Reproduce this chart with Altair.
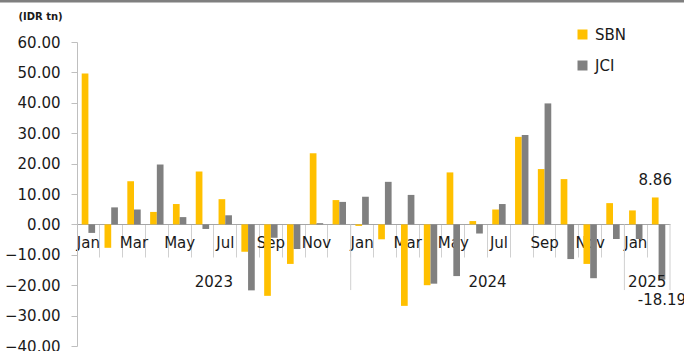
import altair as alt
import pandas as pd

# Monthly net foreign flows, IDR trillion
periods = [
    "2023-01", "2023-02", "2023-03", "2023-04", "2023-05", "2023-06",
    "2023-07", "2023-08", "2023-09", "2023-10", "2023-11", "2023-12",
    "2024-01", "2024-02", "2024-03", "2024-04", "2024-05", "2024-06",
    "2024-07", "2024-08", "2024-09", "2024-10", "2024-11", "2024-12",
    "2025-01", "2025-02",
]
sbn = [49.6, -7.7, 14.2, 4.1, 6.7, 17.4, 8.3, -9.0, -23.5, -13.0, 23.4, 8.0,
       -0.5, -4.9, -26.8, -20.0, 17.1, 1.1, 4.9, 28.8, 18.2, 14.9, -13.0, 7.0,
       4.6, 8.86]
jci = [-2.8, 5.6, 4.9, 19.7, 2.4, -1.5, 3.0, -21.7, -4.4, -8.1, 0.4, 7.4,
       9.1, 14.0, 9.7, -19.5, -17.0, -3.0, 6.7, 29.4, 39.8, -11.4, -17.7, -4.8,
       -4.8, -18.19]
series_names = ["SBN", "JCI"]
series_colors = ["#FFC000", "#808080"]
year_names = ["2023", "2024", "2025"]
year_centers = ["2023-07", "2024-07", "2025-02"]
year_breaks = ["2024-01", "2025-01"]
y_ticks = [-40, -30, -20, -10, 0, 10, 20, 30, 40, 50, 60]

rows = []
for p, a, b in zip(periods, sbn, jci):
    rows.append({"period": p, "series": "SBN", "value": a})
    rows.append({"period": p, "series": "JCI", "value": b})
df = pd.DataFrame(rows)
last = df[df["period"] == periods[-1]].copy()
last["label"] = last["value"].map(lambda v: f"{v:.2f}")

FONT = "DejaVu Sans"
month_expr = ("['Jan','','Mar','','May','','Jul','','Sep','','Nov','']"
              "[toNumber(substring(datum.value,5,7))-1]")

x_scale = alt.Scale(paddingInner=0, paddingOuter=0)
x_axis = alt.Axis(
    orient="bottom", offset=-122, bandPosition=0, title=None,
    domainColor="#A6A6A6", domainWidth=1,
    tickColor="#D0D0D0", tickSize=33, tickWidth=1,
    labelExpr=month_expr, labelAngle=0, labelPadding=-22,
    labelFont=FONT, labelFontSize=15, labelColor="#1a1a1a",
    labelOverlap=False,
)
y_scale = alt.Scale(domain=[-40, 60], nice=False, zero=False)
y_axis = alt.Axis(
    values=y_ticks, format=".2f", grid=False, labelOverlap=False,
    title="(IDR tn)",
    domainColor="#BFBFBF", tickColor="#BFBFBF", tickSize=6,
    labelFont=FONT, labelFontSize=15, labelColor="#1a1a1a",
    labelPadding=11, labelFlush=False,
    titleAngle=0, titleX=-37, titleY=-26, titleAlign="center",
    titleBaseline="middle", titleFont=FONT, titleFontSize=10,
    titleFontWeight="bold", titleColor="#1a1a1a",
)


def xe(**kw):
    return alt.X("period:N", sort=periods, scale=x_scale, axis=x_axis, **kw)


def ye(field):
    return alt.Y(field, scale=y_scale, axis=y_axis)


bars = alt.Chart(df).mark_bar(size=6.7).encode(
    x=xe(),
    xOffset=alt.XOffset("series:N", sort=series_names,
                        scale=alt.Scale(paddingInner=0, paddingOuter=0.7)),
    y=ye("value:Q"),
    color=alt.Color(
        "series:N", sort=series_names,
        scale=alt.Scale(domain=series_names, range=series_colors),
        legend=alt.Legend(
            title=None, orient="none", legendX=498, legendY=-15,
            symbolType="square", symbolSize=100, symbolStrokeWidth=0,
            labelFont=FONT, labelFontSize=15, labelColor="#1a1a1a",
            rowPadding=15, padding=0, labelOffset=5,
        ),
    ),
)

year_df = pd.DataFrame({"period": year_centers, "year": year_names})
year_text = alt.Chart(year_df).mark_text(
    font=FONT, fontSize=15, color="#1a1a1a", baseline="middle", align="center"
).encode(
    x=xe(bandPosition=0),
    y=alt.value(240),
    text="year:N",
)

break_df = pd.DataFrame({"period": year_breaks, "top": [0, 0], "bot": [-21.6, -21.6]})
break_rules = alt.Chart(break_df).mark_rule(color="#D0D0D0", strokeWidth=1).encode(
    x=xe(bandPosition=0),
    y=ye("top:Q"),
    y2="bot:Q",
)
end_df = pd.DataFrame({"period": [periods[-1]], "top": [0], "bot": [-21.6]})
end_rule = alt.Chart(end_df).mark_rule(color="#D0D0D0", strokeWidth=1).encode(
    x=xe(bandPosition=1),
    y=ye("top:Q"),
    y2="bot:Q",
)

label_pos = alt.Chart(last[last["value"] > 0]).mark_text(
    font=FONT, fontSize=15, color="#1a1a1a", baseline="bottom", dy=-9
).encode(
    x=xe(),
    xOffset=alt.XOffset("series:N", sort=series_names),
    y=ye("value:Q"),
    text="label:N",
)
label_neg = alt.Chart(last[last["value"] < 0]).mark_text(
    font=FONT, fontSize=15, color="#1a1a1a", baseline="top", dy=13
).encode(
    x=xe(),
    xOffset=alt.XOffset("series:N", sort=series_names),
    y=ye("value:Q"),
    text="label:N",
)

top_border = alt.Chart(pd.DataFrame({"a": [0]})).mark_rule(
    color="#7F7F7F", strokeWidth=3
).encode(x=alt.value(-77), x2=alt.value(607), y=alt.value(-41))

chart = alt.layer(
    bars, break_rules, end_rule, year_text, label_pos, label_neg, top_border
).properties(
    width=593, height=304,
    autosize=alt.AutoSizeParams(type="none"),
    padding={"left": 77, "top": 42, "right": 14, "bottom": 5},
    background="white",
).configure_view(stroke=None)

chart.save("out.html", embed_options={"renderer": "svg", "actions": False})
